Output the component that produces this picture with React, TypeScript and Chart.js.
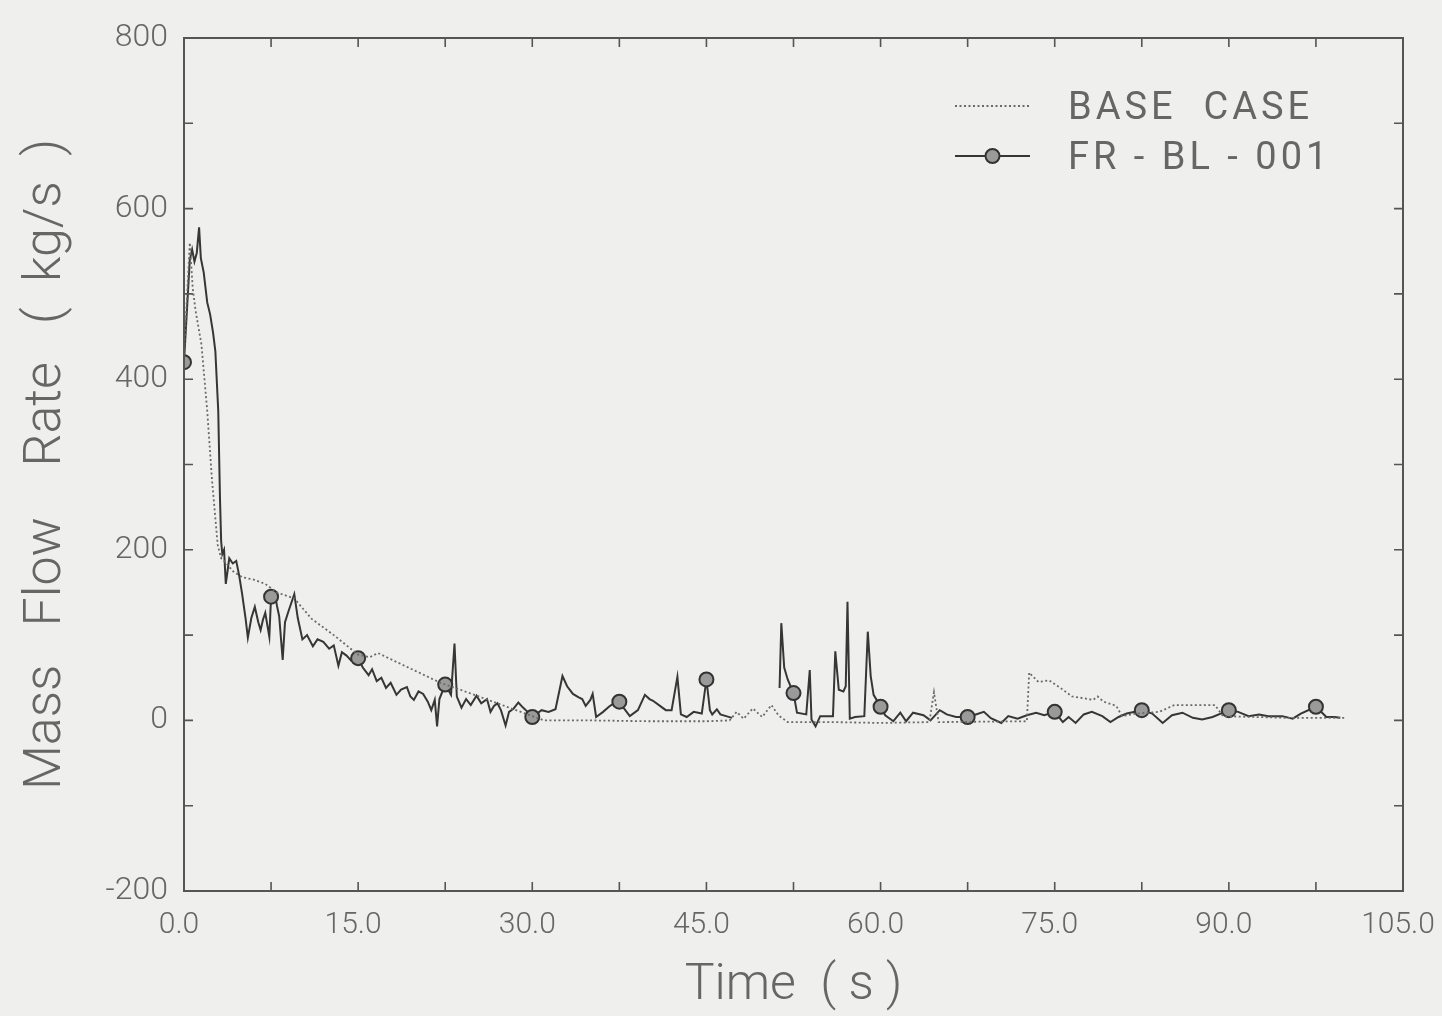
import { useEffect, useRef } from 'react';
import { Chart, registerables } from 'chart.js';

Chart.register(...registerables);

// FR-BL-001 run: time (s) and mass flow rate (kg/s); null marks a break in the record
const FR_TIME = [
  0.0, 0.5, 0.7, 0.9, 1.1, 1.3, 1.45, 1.7, 2.0, 2.25, 2.5, 2.7, 2.95, 3.1, 3.2, 3.3, 3.45, 3.6, 3.9, 4.2,
  4.5, 4.75, 5.0, 5.3, 5.5, 5.8, 6.1, 6.4, 6.6, 6.8, 7.0, 7.2, 7.35, 7.5, 7.8, 8.0, 8.2, 8.5, 8.7, 9.0,
  9.5, 9.8, 10.2, 10.6, 11.1, 11.5, 12.0, 12.5, 12.9, 13.3, 13.6, 14.0, 14.4, 15.0, 15.4, 15.9, 16.2, 16.6, 17.0, 17.4,
  17.8, 18.3, 18.7, 19.2, 19.5, 19.8, 20.2, 20.6, 21.0, 21.3, 21.6, 21.8, 22.0, 22.5, 23.0, 23.3, 23.5, 23.9, 24.3, 24.7,
  25.2, 25.6, 26.1, 26.4, 26.7, 27.0, 27.3, 27.7, 28.0, 28.4, 28.8, 29.2, 29.6, 30.0, 30.4, 30.8, 31.4, 32.0, 32.6, 33.0,
  33.5, 34.0, 34.3, 34.6, 35.0, 35.2, 35.5, 36.1, 36.6, 37.0, 37.5, 37.9, 38.4, 39.1, 39.7, 40.1, 40.4, 41.0, 41.5, 42.0,
  42.5, 42.8, 43.3, 43.9, 44.6, 45.0, 45.3, 45.5, 45.9, 46.2, 46.7, 47.2, 47.3, 51.3, 51.45, 51.7, 52.0, 52.5, 52.8, 53.6,
  53.9, 54.05, 54.4, 54.8, 55.9, 56.1, 56.4, 56.8, 57.0, 57.15, 57.35, 57.8, 58.6, 58.9, 59.15, 59.4, 60.0, 60.4, 61.1, 61.7,
  62.2, 62.8, 63.7, 64.3, 65.1, 65.7, 66.5, 67.5, 68.2, 68.9, 69.5, 70.4, 71.0, 71.8, 72.6, 73.4, 74.1, 75.0, 75.7, 76.2,
  76.8, 77.5, 78.2, 79.1, 79.8, 80.5, 81.2, 82.5, 83.4, 84.3, 85.1, 86.0, 86.9, 87.7, 88.6, 90.0, 90.8, 91.7, 92.6, 93.4,
  94.6, 95.5, 96.2, 97.5, 98.4, 99.1, 99.6,
];
const FR_FLOW = [
  420, 540, 552, 538, 548, 578, 542, 525, 490, 476, 455, 433, 363, 260, 210, 195, 200, 160, 190, 184,
  187, 170, 149, 120, 97, 120, 133, 115, 106, 118, 126, 110, 98, 145, 150, 135, 122, 71, 115, 128,
  148, 120, 95, 100, 87, 95, 92, 84, 88, 64, 80, 76, 70, 73, 62, 53, 60, 46, 50, 38,
  44, 30, 36, 39, 28, 24, 34, 31, 22, 12, 24, -7, 25, 42, 30, 90, 28, 15, 25, 18,
  29, 20, 25, 10, 17, 20, 12, -6, 10, 14, 21, 15, 10, 4, 8, 12, 10, 13, 52, 40,
  31, 27, 25, 17, 24, 31, 4, 10, 16, 20, 22, 14, 5, 12, 30, 25, 23, 17, 12, 12,
  51, 7, 4, 10, 8, 48, 12, 7, 13, 7, 5, 3, null, 38, 114, 62, 48, 32, 9, 7,
  59, 1, -7, 5, 5, 81, 36, 34, 40, 139, 2, 4, 5, 104, 52, 30, 16, 6, -1, 9,
  -1, 9, 6, 0, 12, 7, 4, 4, 7, 10, 2.5, -3, 5, 2, 6, 9, 6, 10, -2, 4,
  -3, 7, 10, 5, -2, 4, 8, 12, 8, -3, 6, 9, 3, 1, 4, 12, 10, 5, 7, 5,
  5, 2, 8, 16, 4, 4, 3,
];

// Base case run: time (s) and mass flow rate (kg/s)
const BASE_TIME = [
  0.0, 0.5, 0.75, 1.0, 1.5, 2.0, 2.4, 2.9, 3.2, 3.6, 4.2, 5.0, 6.0, 7.0, 8.0, 9.5, 11.0, 12.9, 15.0, 16.0,
  16.7, 18.7, 20.4, 22.1, 24.0, 26.0, 28.0, 30.0, 31.0, 35.0, 40.0, 45.0, 47.0, 47.6, 48.2, 49.0, 49.8, 50.6, 51.2, 52.0,
  56.0, 60.0, 64.2, 64.6, 65.0, 72.6, 72.8, 73.6, 74.5, 75.5, 76.5, 77.5, 78.3, 78.7, 79.2, 80.3, 80.8, 82.0, 84.0, 85.3,
  88.8, 89.5, 95.0, 100.0,
];
const BASE_FLOW = [
  430, 560, 507, 480, 441, 363, 284, 206, 190, 185, 175, 168, 165, 160, 150, 143, 119, 100, 77, 74,
  79, 66, 55, 44, 35, 25, 15, 5, 0, 0, -1, -1, 0, 10, 2, 14, 4, 18, 6, -2,
  -2, -3, -2, 33, -2, -1, 56, 45, 47, 38, 28, 26, 24, 28, 22, 17, 5, 8, 10, 18,
  18, 5, 3, 3,
];

// Times at which the FR-BL-001 symbol is plotted
const MARKER_TIMES = [0, 7.5, 15, 22.5, 30, 37.5, 45, 52.5, 60, 67.5, 75, 82.5, 90, 97.5];

const X_MIN = 0;
const X_MAX = 105;
const X_MINOR_STEP = 7.5;
const X_LABEL_STEP = 15;
const Y_MIN = -200;
const Y_MAX = 800;
const Y_MINOR_STEP = 100;
const Y_LABEL_STEP = 200;

const SERIES_NAMES = ['BASE  CASE', 'FR - BL - 001'];

const INK = '#363636';
const TEXT = '#666666';
const PAPER = '#efefed';
const FONT = 'Roboto, "DejaVu Sans", sans-serif';

const paperPlugin = {
  id: 'paper',
  beforeDraw(chart: any) {
    const { ctx, width, height } = chart;
    ctx.save();
    ctx.fillStyle = PAPER;
    ctx.fillRect(0, 0, width, height);
    ctx.restore();
  },
};

// Plot frame with inward tick marks on all four sides
const framePlugin = {
  id: 'frame',
  afterDatasetsDraw(chart: any) {
    const { ctx, chartArea: a, scales } = chart;
    const tick = 9;
    ctx.save();
    ctx.strokeStyle = '#555';
    ctx.lineWidth = 2;
    ctx.strokeRect(a.left, a.top, a.right - a.left, a.bottom - a.top);
    ctx.lineWidth = 1.6;
    ctx.beginPath();
    for (const t of scales.x.ticks) {
      const px = scales.x.getPixelForValue(t.value);
      ctx.moveTo(px, a.bottom);
      ctx.lineTo(px, a.bottom - tick);
      ctx.moveTo(px, a.top);
      ctx.lineTo(px, a.top + tick);
    }
    for (const t of scales.y.ticks) {
      const py = scales.y.getPixelForValue(t.value);
      ctx.moveTo(a.left, py);
      ctx.lineTo(a.left + tick, py);
      ctx.moveTo(a.right, py);
      ctx.lineTo(a.right - tick, py);
    }
    ctx.stroke();
    ctx.restore();
  },
};

// Legend in the upper right of the plot area
const keyPlugin = {
  id: 'key',
  afterDraw(chart: any) {
    const { ctx, chartArea: a } = chart;
    const x1 = a.right - 448;
    const x2 = a.right - 373;
    const tx = a.right - 335;
    const rows = [a.top + 68, a.top + 118];
    const ds = chart.data.datasets;
    ctx.save();
    // base case sample
    ctx.strokeStyle = ds[0].borderColor;
    ctx.lineWidth = ds[0].borderWidth;
    ctx.setLineDash(ds[0].borderDash);
    ctx.beginPath();
    ctx.moveTo(x1, rows[0]);
    ctx.lineTo(x2, rows[0]);
    ctx.stroke();
    // FR-BL-001 sample
    ctx.setLineDash([]);
    ctx.strokeStyle = ds[1].borderColor;
    ctx.lineWidth = ds[1].borderWidth;
    ctx.beginPath();
    ctx.moveTo(x1, rows[1]);
    ctx.lineTo(x2, rows[1]);
    ctx.stroke();
    ctx.beginPath();
    ctx.arc((x1 + x2) / 2, rows[1], 7, 0, Math.PI * 2);
    ctx.fillStyle = ds[1].pointBackgroundColor;
    ctx.fill();
    ctx.lineWidth = 2;
    ctx.strokeStyle = ds[1].pointBorderColor;
    ctx.stroke();
    // labels
    ctx.fillStyle = TEXT;
    ctx.font = `38px ${FONT}`;
    (ctx as any).letterSpacing = '4px';
    ctx.textAlign = 'left';
    ctx.textBaseline = 'middle';
    ctx.fillText(SERIES_NAMES[0], tx, rows[0] + 3);
    ctx.fillText(SERIES_NAMES[1], tx, rows[1] + 3);
    ctx.restore();
  },
};

const isMultiple = (v: number, step: number) => {
  const r = Math.abs(v / step - Math.round(v / step));
  return r < 1e-6;
};

export default function App() {
  const canvasRef = useRef<HTMLCanvasElement | null>(null);

  useEffect(() => {
    const canvas = canvasRef.current;
    if (!canvas) return;

    const frPoints = FR_TIME.map((t, i) => ({ x: t, y: FR_FLOW[i] }));
    const basePoints = BASE_TIME.map((t, i) => ({ x: t, y: BASE_FLOW[i] }));

    const chart = new Chart(canvas, {
      type: 'line',
      data: {
        datasets: [
          {
            label: SERIES_NAMES[0],
            data: basePoints,
            borderColor: '#6a6a6a',
            borderWidth: 1.8,
            borderDash: [2, 2.5],
            pointRadius: 0,
            tension: 0,
          },
          {
            label: SERIES_NAMES[1],
            data: frPoints as any,
            borderColor: INK,
            borderWidth: 2,
            spanGaps: false,
            tension: 0,
            pointStyle: 'circle',
            pointRadius: (c: any) => (c.raw && MARKER_TIMES.includes(c.raw.x) ? 7 : 0),
            pointBackgroundColor: '#9a9a9a',
            pointBorderColor: '#333',
            pointBorderWidth: 2,
          },
        ],
      },
      options: {
        animation: false,
        responsive: false,
        devicePixelRatio: 1,
        events: [],
        layout: { padding: { top: 38, right: 39, left: 0, bottom: 0 } },
        plugins: {
          legend: { display: false },
          tooltip: { enabled: false },
        },
        scales: {
          x: {
            type: 'linear',
            min: X_MIN,
            max: X_MAX,
            grid: { display: false, drawTicks: false },
            border: { display: false },
            ticks: {
              stepSize: X_MINOR_STEP,
              autoSkip: false,
              maxRotation: 0,
              padding: 16,
              labelOffset: -5,
              color: TEXT,
              font: { family: FONT, size: 30, weight: '300' },
              callback: (v: any) => (isMultiple(Number(v), X_LABEL_STEP) ? Number(v).toFixed(1) : ''),
            },
            title: {
              display: true,
              text: 'Time  ( s )',
              color: TEXT,
              font: { family: FONT, size: 50, weight: '300' },
              padding: 0,
            },
            afterFit: (s: any) => {
              s.height = 125;
              // the end labels may hang past the frame; keep the plot width fixed
              s.paddingLeft = 0;
              s.paddingRight = 0;
            },
          },
          y: {
            type: 'linear',
            min: Y_MIN,
            max: Y_MAX,
            grid: { display: false, drawTicks: false },
            border: { display: false },
            ticks: {
              stepSize: Y_MINOR_STEP,
              autoSkip: false,
              padding: 16,
              color: TEXT,
              font: { family: FONT, size: 32, weight: '300' },
              callback: (v: any) => (isMultiple(Number(v), Y_LABEL_STEP) ? String(v) : ''),
            },
            title: {
              display: true,
              text: 'Mass   Flow    Rate   (  kg/s  )',
              color: TEXT,
              font: { family: FONT, size: 52, weight: '300' },
              padding: { top: 16, bottom: 0 },
            },
            afterFit: (s: any) => {
              s.width = 184;
              s.paddingTop = 0;
              s.paddingBottom = 0;
            },
          },
        },
      },
      plugins: [paperPlugin, framePlugin, keyPlugin],
    });

    return () => chart.destroy();
  }, []);

  return (
    <div style={{ position: 'fixed', left: 0, top: 0, width: 1442, height: 1016, background: PAPER }}>
      <canvas ref={canvasRef} width={1442} height={1016} style={{ display: 'block' }} />
    </div>
  );
}
